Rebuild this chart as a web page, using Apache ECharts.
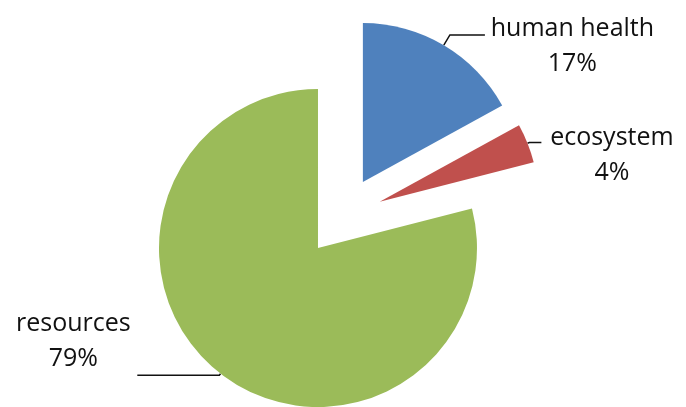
<!DOCTYPE html>
<html>
<head>
<meta charset="utf-8">
<script src="https://cdn.jsdelivr.net/npm/echarts@6/dist/echarts.min.js"></script>
<style>
html,body{margin:0;padding:0;background:#fff;}
#chart{width:686px;height:407px;}
</style>
</head>
<body>
<div id="chart"></div>
<script>
const categories = ['human health', 'ecosystem', 'resources'];
const values = [17, 4, 79];
const colors = ['#4F81BD', '#C0504D', '#9BBB59'];

// label styling per slice (layout only)
const labelWidths = [165, 131, 118];
const labelPadding = [[23, 0, 0, 0], [25, 0, 0, 0], [0, 0, 68, 0]];
const lineLengths = [12, 2, 2];
const lineLengths2 = [35, 12, 82];

const chart = echarts.init(document.getElementById('chart'), null, { renderer: 'canvas' });
chart.setOption({
  animation: false,
  backgroundColor: '#ffffff',
  series: [{
    type: 'pie',
    center: [342.5, 216.5],
    radius: 159,
    startAngle: 90,
    clockwise: true,
    selectedMode: 'multiple',
    selectedOffset: 40,
    avoidLabelOverlap: false,
    emphasis: { disabled: true },
    label: {
      show: true,
      position: 'outside',
      distanceToLabelLine: 5,
      color: '#111'
    },
    labelLine: {
      show: true,
      lineStyle: { color: '#111', width: 1.5 }
    },
    data: categories.map((c, i) => ({
      name: c,
      value: values[i],
      selected: true,
      itemStyle: { color: colors[i] },
      label: {
        formatter: '{a|{b}}\n{a|{d}%}',
        padding: labelPadding[i],
        rich: {
          a: {
            width: labelWidths[i],
            align: 'center',
            fontFamily: 'Open Sans',
            fontSize: 25,
            lineHeight: 35,
            color: '#111'
          }
        }
      },
      labelLine: { length: lineLengths[i], length2: lineLengths2[i] }
    }))
  }]
});
</script>
</body>
</html>
